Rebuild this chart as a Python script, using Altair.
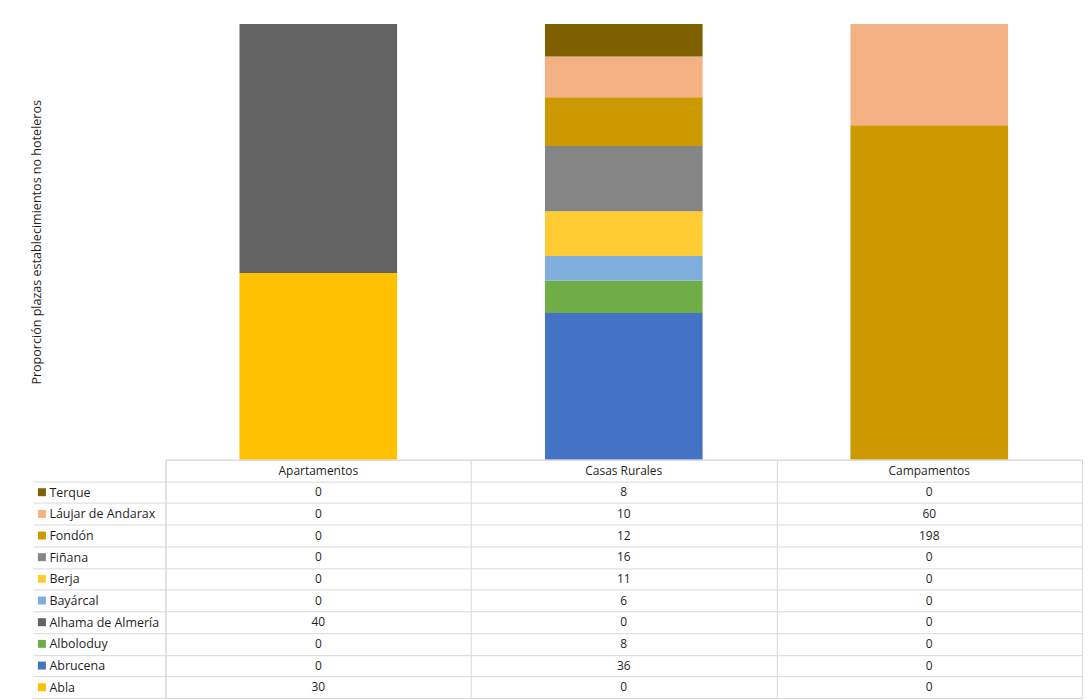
import altair as alt
import pandas as pd

categories = ["Apartamentos", "Casas Rurales", "Campamentos"]
municipios = ["Abla", "Abrucena", "Alboloduy", "Alhama de Almería", "Bayárcal",
              "Berja", "Fiñana", "Fondón", "Láujar de Andarax", "Terque"]
apartamentos = [30, 0, 0, 40, 0, 0, 0, 0, 0, 0]
casas_rurales = [0, 36, 8, 0, 6, 11, 16, 12, 10, 8]
campamentos = [0, 0, 0, 0, 0, 0, 0, 198, 60, 0]
colors = ["#FFC000", "#4472C4", "#70AD47", "#636363", "#7FAEDC",
          "#FFCD33", "#858585", "#CC9900", "#F4B183", "#7F6000"]
y_title = "Proporción plazas establecimientos no hoteleros"

series = {"Apartamentos": apartamentos, "Casas Rurales": casas_rurales, "Campamentos": campamentos}

records = []
for cat in categories:
    for i, m in enumerate(municipios):
        records.append({"categoria": cat, "municipio": m, "fila": m,
                        "valor": series[cat][i], "orden": i, "texto": str(series[cat][i])})
df = pd.DataFrame(records)

header = pd.DataFrame({"categoria": categories, "fila": ["__h"] * 3, "texto": categories})
tdf = pd.concat([df[["categoria", "fila", "texto"]], header], ignore_index=True)
rows = ["__h"] + municipios[::-1]

FONT = "Open Sans"
GRID = "#d9d9d9"
TXT = "#1f1f1f"
color_scale = alt.Scale(domain=municipios, range=colors)

bars = alt.Chart(df).mark_bar().encode(
    x=alt.X("categoria:N", sort=categories, axis=None,
            scale=alt.Scale(paddingInner=0.484, paddingOuter=0.242)),
    y=alt.Y("valor:Q", stack="normalize",
            scale=alt.Scale(domain=[0, 1], nice=False),
            axis=alt.Axis(title=y_title, labels=False, ticks=False, domain=False, grid=False,
                          titlePadding=122, titleFont=FONT, titleFontSize=12.6,
                          titleFontWeight="normal", titleColor=TXT)),
    color=alt.Color("municipio:N", scale=color_scale, legend=None),
    order=alt.Order("orden:Q", sort="ascending"),
).properties(width=919, height=437, view=alt.ViewBackground(stroke="transparent"))

base = alt.Chart(tdf).encode(
    x=alt.X("categoria:N", sort=categories,
            scale=alt.Scale(paddingInner=0, paddingOuter=0),
            axis=alt.Axis(orient="bottom", labels=False, ticks=False, domain=False, title=None,
                          grid=True, gridColor=GRID, tickBand="extent", minExtent=0)),
    y=alt.Y("fila:N", sort=rows,
            scale=alt.Scale(paddingInner=0, paddingOuter=0),
            axis=alt.Axis(title=None, grid=True, gridColor=GRID, tickBand="extent",
                          ticks=True, tickSize=133,
                          tickColor={"condition": {"test": "datum.extra", "value": "transparent"},
                                     "value": GRID},
                          domain=False, labelAlign="left", labelPadding=-16,
                          labelBaseline="middle",
                          labelExpr="datum.value == '__h' ? '' : datum.value",
                          labelFont=FONT, labelFontSize=12.5, labelColor=TXT)),
)
text = base.mark_text(font=FONT, fontSize=12, color=TXT).encode(text="texto:N")
swatch = alt.Chart(df).transform_filter(alt.datum.categoria == "Apartamentos").mark_square(
    size=64, opacity=1).encode(
    x=alt.value(-124),
    y=alt.Y("fila:N", sort=rows),
    color=alt.Color("municipio:N", scale=color_scale, legend=None),
)
table = alt.layer(text, swatch).properties(width=919, height=239,
                                           view=alt.ViewBackground(stroke=GRID))

chart = alt.vconcat(bars, table, spacing=0, bounds="flush").resolve_scale(
    x="independent", y="independent").properties(
    padding={"left": 22, "top": 14, "right": 0, "bottom": 0}
).configure(background="white")

chart.save("out.html", embed_options={"renderer": "svg", "actions": False})
